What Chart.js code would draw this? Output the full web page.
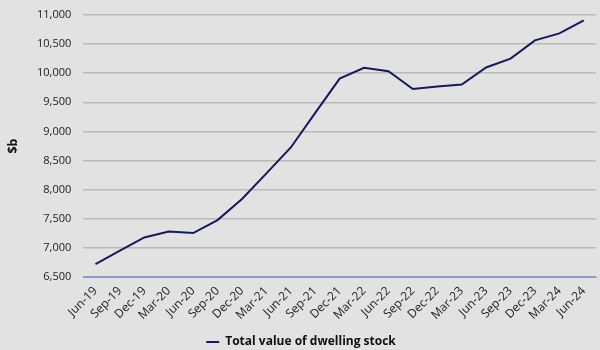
<!DOCTYPE html>
<html>
<head>
<meta charset="utf-8">
<script src="https://cdn.jsdelivr.net/npm/chart.js@4.4.1/dist/chart.umd.min.js"></script>
<style>
  html, body { margin: 0; padding: 0; background: #e2e2e2; }
  #wrap { width: 600px; height: 350px; }
</style>
</head>
<body>
<div id="wrap"><canvas id="c" width="600" height="350"></canvas></div>
<script>
const categories = ["Jun-19","Sep-19","Dec-19","Mar-20","Jun-20","Sep-20","Dec-20","Mar-21","Jun-21","Sep-21","Dec-21","Mar-22","Jun-22","Sep-22","Dec-22","Mar-23","Jun-23","Sep-23","Dec-23","Mar-24","Jun-24"];
const dwellingStock = [6720, 6955, 7180, 7282, 7255, 7478, 7840, 8280, 8725, 9320, 9908, 10092, 10034, 9730, 9770, 9805, 10098, 10250, 10565, 10685, 10908];
const seriesLabel = "Total value of dwelling stock";
const yTitle = "$b";
const yMin = 6500, yMax = 11000, yStep = 500;

const font = "'Open Sans', 'Noto Sans', sans-serif";

new Chart(document.getElementById('c'), {
  type: 'line',
  data: {
    labels: categories,
    datasets: [{
      label: seriesLabel,
      data: dwellingStock,
      borderColor: '#141a5c',
      backgroundColor: '#141a5c',
      borderWidth: 2,
      pointRadius: 0,
      tension: 0,
      fill: false
    }]
  },
  options: {
    responsive: false,
    animation: false,
    layout: { padding: { left: 6, right: 4, top: 15, bottom: -8 } },
    plugins: {
      legend: {
        position: 'bottom',
        labels: {
          usePointStyle: true,
          pointStyle: 'line',
          pointStyleWidth: 13,
          boxWidth: 13,
          color: '#111',
          font: { family: font, size: 12, weight: 'bold' },
          padding: 1
        }
      },
      tooltip: { enabled: false }
    },
    scales: {
      x: {
        offset: true,
        grid: { display: false, drawTicks: false },
        border: { display: true, color: '#8c9dc9', width: 1 },
        ticks: {
          color: '#222',
          font: { family: font, size: 12 },
          maxRotation: 45,
          minRotation: 45,
          autoSkip: false,
          padding: 7
        },
        afterFit: (scale) => { scale.height = 58; scale.paddingRight = 0; }
      },
      y: {
        min: yMin,
        max: yMax,
        grid: {
          color: (ctx) => ctx.tick && ctx.tick.value === yMin ? '#8c9dc9' : '#bababa',
          lineWidth: 1.5,
          drawTicks: false
        },
        border: { display: false },
        ticks: {
          stepSize: yStep,
          color: '#222',
          font: { family: font, size: 11 },
          padding: 12,
          callback: (v) => v.toLocaleString('en-US')
        },
        title: {
          display: true,
          text: yTitle,
          color: '#111',
          font: { family: font, size: 12.5, weight: 'bold' },
          padding: { top: 0, bottom: 4 }
        },
        afterFit: (scale) => { scale.paddingTop = 0; }
      }
    }
  }
});
</script>
</body>
</html>
